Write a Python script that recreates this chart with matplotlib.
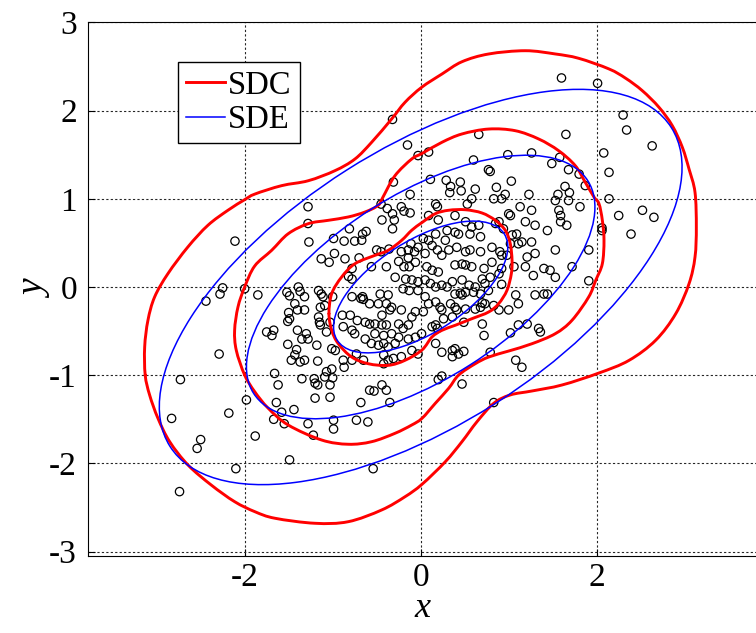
import numpy as np
import matplotlib
matplotlib.use("Agg")
import matplotlib.pyplot as plt
from matplotlib.patches import Ellipse, PathPatch
from matplotlib.path import Path
from matplotlib.lines import Line2D

plt.rcParams['axes.unicode_minus'] = False
plt.rcParams['font.family'] = ['Liberation Serif', 'DejaVu Serif']

# ---------------- data ----------------
pts_x = [-0.32, -0.15, -0.03, -0.31, -0.12,
         1.60, 1.65, 0.66, 0.09, 0.60, 0.99, 1.26, 1.58, 1.49, 1.68, 1.80, 1.87, 0.77, 0.79, 0.11,
         0.29, 0.34, 0.45, 0.46, 0.33, 0.62, 0.86, 1.03, 0.96, 1.23, 1.56, 1.64, 1.69,
         2.01, 2.30, 2.34, 2.63, 2.08, 2.14, 2.14,
         2.25, 2.52, 2.65, 2.06, 2.06, 2.39, 1.91, 1.91,
         -2.11, -2.25, -2.28, -2.44, -2.00, -2.29, -1.85,
         -2.73, -1.98, -2.18, -2.83, -2.50, -2.54, -1.88, -2.10, -2.74,
         -1.35, -1.21, -1.09, -1.00, -1.20, -1.17, -1.03, -1.62, -1.20, -1.03, -1.64, -1.44, -1.58,
         -1.67, -1.55, -1.28, -1.22, -0.99, -0.99, -0.73, -0.60, -0.68, -0.58, -0.53, -0.44, -0.39,
         -0.35, -1.49, -0.54,
         0.20, 0.24, 0.47, 0.83,
         # left-centre block
         -0.45, -0.38, -0.22, -0.19, -0.12, -0.32, -1.28,
         -1.28, -0.44, -0.30, -0.32, -0.81, -0.62,
         -1.27, -0.99, -0.87, -0.75, -0.66, -0.67, -0.11, -0.03,
         -0.98, -1.13, -0.86, -0.70, -0.50, -0.45, -0.36, -0.22, -0.14, -0.07, -0.14, -0.06, -0.25, -1.04,
         -0.56, -0.78, -0.39, -0.19, -0.13, -0.82, -0.78, -0.29, -0.17, -0.10, -0.03,
         -1.52, -1.39, -1.49, -1.37, -1.32, -1.16, -1.13, -1.00, -0.78, -0.66, -0.65, -0.68,
         -0.20, -0.13, -0.03, -0.46, -0.37,
         -1.43, -1.40, -1.32, -1.50, -1.11, -1.14, -1.09, -0.58, -0.48, -0.39, -0.33, -0.35, -0.22,
         -0.89, -0.80,
         -1.49, -1.51, -1.16, -1.15, -1.14, -1.03, -0.72, -0.63, -0.58, -0.52, -0.44, -0.39, -0.25,
         -0.20, -0.10, -0.06, -0.14, -0.44,
         -1.75, -1.67, -1.69, -1.40, -1.30, -1.35, -1.28, -1.07, -0.88, -0.78, -0.75, -0.52, -0.42,
         -0.33, -0.25, -0.14, -0.06, 0.01, -1.51, -1.18, -0.63, -0.56, -0.48, -0.42, -0.37, -0.29,
         -1.41, -1.43, -1.47, -1.37, -1.32, -1.17, -1.01, -0.97, -0.88, -0.87, -0.78, -0.73, -0.65,
         -0.42, -0.42, -0.37, -0.31, -0.22, -0.10, -0.03, -1.66, -1.07, -1.01,
         # right-centre block
         0.17, 0.19, 0.53, 0.58, 0.83, 0.92, 1.13, 1.00, 1.02, 1.26, 1.53, 1.68, 1.81, 1.57, 1.59,
         0.09, 0.20, 0.39, 0.51,
         0.58, 0.66, 0.56, 0.68, 0.85, 0.94, 0.89, 1.04, 1.09, 1.19, 1.30, 1.44, 1.59, 1.66,
         0.30, 0.39, 0.43, 0.28, 0.17, 0.03, 0.09,
         0.13, 0.19, 0.05, 0.24, 0.32, 0.41, 0.51, 0.56, 0.68, 0.81, 0.90, 0.92, 0.98, 1.02, 1.11,
         1.15, 1.26, 1.30, 1.21, 1.53,
         0.07, 0.13, 0.20, 0.39, 0.47, 0.51, 0.58, 0.72, 0.81, 0.79, 0.92, 0.89, 1.06, 1.19, 1.28,
         1.40, 1.47, 1.72, 1.53,
         0.05, 0.11, 0.17, 0.24, 0.30, 0.36, 0.47, 0.55, 0.62, 0.70, 0.73, 0.92, 0.39, 0.45, 0.47,
         0.51, 0.60, 0.68, 0.77, 1.08, 1.11, 1.30, 1.40, 1.44,
         0.05, 0.09, 0.17, 0.22, 0.24, 0.34, 0.39, 0.41, 0.51, 0.62, 0.70, 0.73, 0.68, 0.83, 0.89,
         1.00, 0.03,
         0.13, 0.17, 0.19, 0.26, 0.36, 0.49, 0.70, 0.72, 1.02, 1.11, 1.21, 1.34, 1.36,
         0.17, 0.24, 0.36, 0.39, 0.43, 0.49, 0.36, 0.79, 1.08, 1.15]
pts_y = [1.90, 1.61, 1.49, 1.19, 1.05,
         2.37, 1.73, 1.73, 1.53, 1.44, 1.50, 1.52, 1.47, 1.40, 1.33, 1.28, 1.15, 1.33, 1.31, 1.22,
         1.21, 1.14, 1.19, 1.09, 1.07, 1.11, 1.13, 1.20, 1.05, 1.05, 1.05, 1.14, 1.07,
         2.31, 1.95, 1.78, 1.60, 1.52, 1.30, 1.00,
         0.81, 0.87, 0.79, 0.67, 0.64, 0.60, 0.42, 0.07,
         0.52, -0.01, -0.08, -0.16, -0.02, -0.76, -0.09,
         -1.05, -1.28, -1.43, -1.49, -1.73, -1.83, -1.69, -2.06, -2.32,
         -1.04, -1.04, -1.02, -1.03, -1.09, -1.11, -1.11, -1.11, -1.26, -1.25, -1.31, -1.39, -1.42,
         -1.50, -1.55, -1.55, -1.68, -1.51, -1.61, -1.51, -1.53, -1.31, -1.17, -1.18, -1.11, -1.17,
         -1.31, -1.96, -2.06,
         -1.05, -1.01, -1.10, -1.31,
         # left-centre block
         0.94, 0.89, 0.91, 0.86, 0.84, 0.83, 0.91,
         0.72, 0.76, 0.76, 0.66, 0.66, 0.63,
         0.51, 0.55, 0.52, 0.52, 0.60, 0.53, 0.49, 0.45,
         0.38, 0.32, 0.32, 0.33, 0.42, 0.40, 0.43, 0.40, 0.42, 0.40, 0.33, 0.28, 0.29, 0.28,
         0.23, 0.21, 0.23, 0.23, 0.23, 0.12, 0.09, 0.11, 0.09, 0.08, 0.06,
         -0.06, 0.00, -0.10, -0.05, -0.11, -0.04, -0.08, -0.11, -0.11, -0.11, -0.14, -0.13,
         -0.02, -0.04, -0.04, -0.08, -0.09,
         -0.19, -0.26, -0.26, -0.29, -0.11, -0.23, -0.21, -0.19, -0.19, -0.19, -0.23, -0.26, -0.26,
         -0.32, -0.32,
         -0.36, -0.39, -0.34, -0.40, -0.43, -0.40, -0.38, -0.40, -0.42, -0.42, -0.43, -0.43, -0.42,
         -0.47, -0.34, -0.28, -0.43, -0.32,
         -0.51, -0.49, -0.55, -0.49, -0.53, -0.59, -0.59, -0.51, -0.45, -0.49, -0.53, -0.53, -0.55,
         -0.53, -0.57, -0.59, -0.57, -0.53, -0.65, -0.66, -0.59, -0.64, -0.66, -0.64, -0.68, -0.64,
         -0.71, -0.77, -0.83, -0.85, -0.83, -0.84, -0.70, -0.72, -0.83, -0.91, -0.83, -0.76, -0.83,
         -0.77, -0.87, -0.83, -0.81, -0.79, -0.72, -0.76, -0.98, -0.96, -0.93,
         # right-centre block
         0.94, 0.91, 0.94, 1.00, 1.00, 1.00, 0.91, 0.83, 0.81, 0.87, 0.98, 0.98, 0.91, 0.87, 0.81,
         0.81, 0.76, 0.81, 0.74,
         0.68, 0.70, 0.60, 0.57, 0.72, 0.66, 0.74, 0.59, 0.60, 0.74, 0.70, 0.64, 0.74, 0.70,
         0.64, 0.62, 0.60, 0.53, 0.60, 0.55, 0.53,
         0.47, 0.42, 0.38, 0.36, 0.42, 0.45, 0.40, 0.42, 0.40, 0.45, 0.40, 0.36, 0.36, 0.49, 0.49,
         0.51, 0.51, 0.38, 0.34, 0.42,
         0.23, 0.19, 0.17, 0.25, 0.26, 0.25, 0.23, 0.21, 0.28, 0.11, 0.21, 0.15, 0.23, 0.23, 0.13,
         0.21, 0.19, 0.23, 0.11,
         0.08, 0.04, 0.00, 0.02, 0.00, 0.06, 0.08, 0.02, 0.00, 0.09, 0.04, 0.03, -0.08, -0.07, -0.09,
         -0.06, -0.06, -0.08, -0.04, -0.09, -0.19, -0.09, -0.08, -0.08,
         -0.11, -0.19, -0.17, -0.23, -0.26, -0.19, -0.23, -0.26, -0.25, -0.25, -0.18, -0.19, -0.23,
         -0.21, -0.26, -0.26, -0.28,
         -0.45, -0.43, -0.47, -0.36, -0.34, -0.40, -0.42, -0.55, -0.52, -0.43, -0.42, -0.47, -0.51,
         -0.64, -0.74, -0.72, -0.70, -0.76, -0.73, -0.79, -0.74, -0.83, -0.91]

sdc_outer_x = [-3.130, -3.136, -3.099, -3.023, -2.872, -2.645, -2.417, -2.190, -2.000, -1.883, -1.580,
               -1.277, -0.974, -0.747, -0.557, -0.330, -0.178, 0.011, 0.242, 0.469, 0.773, 1.189,
               1.530, 1.795, 2.140, 2.330, 2.518, 2.708, 2.859, 2.973, 3.049, 3.117, 3.132, 3.117,
               3.049, 2.898, 2.670, 2.367, 2.026, 1.606, 1.265, 1.018, 0.830, 0.640, 0.469, 0.280,
               0.015, -0.178, -0.443, -0.823, -1.201, -1.656, -1.883, -2.114, -2.380, -2.644,
               -2.852, -2.985, -3.080]
sdc_outer_y = [-0.998, -0.680, -0.378, -0.113, 0.151, 0.454, 0.700, 0.870, 0.990, 1.054, 1.149,
               1.205, 1.319, 1.451, 1.641, 1.905, 2.094, 2.264, 2.415, 2.554, 2.642, 2.679,
               2.642, 2.593, 2.472, 2.366, 2.226, 2.037, 1.829, 1.584, 1.338, 1.074, 0.680, 0.340,
               0.037, -0.303, -0.604, -0.832, -0.975, -1.111, -1.179, -1.224, -1.319, -1.527,
               -1.754, -1.981, -2.237, -2.378, -2.528, -2.661, -2.679, -2.622, -2.548, -2.434,
               -2.245, -2.018, -1.754, -1.489, -1.224]

sdc_mid_x = [-2.000, -2.095, -2.114, -2.076, -2.000, -1.886, -1.693, -1.505, -1.277, -1.050, -0.823,
             -0.633, -0.482, -0.428, -0.292, -0.102, 0.015, 0.242, 0.469, 0.773, 1.075, 1.341,
             1.568, 1.757, 1.870, 1.969, 2.026, 2.064, 2.083, 2.064, 1.989, 1.909, 1.719, 1.530,
             1.265, 1.000, 0.773, 0.620, 0.432, 0.318, 0.166, 0.015, -0.102, -0.292, -0.557,
             -0.823, -1.125, -1.505, -1.732, -1.886]
sdc_mid_y = [-0.998, -0.718, -0.491, -0.227, 0.000, 0.238, 0.416, 0.604, 0.718, 0.756, 0.794,
             0.850, 0.926, 1.020, 1.262, 1.451, 1.514, 1.641, 1.735, 1.791, 1.772, 1.678,
             1.545, 1.375, 1.187, 1.020, 0.944, 0.756, 0.529, 0.264, 0.076, -0.113, -0.378, -0.529,
             -0.643, -0.726, -0.794, -0.870, -0.998, -1.149, -1.319, -1.489, -1.565, -1.659, -1.754,
             -1.783, -1.735, -1.565, -1.375, -1.187]

sdc_in_x = [-1.042, -1.011, -0.898, -0.747, -0.519, -0.368, -0.216, -0.102, 0.015, 0.166, 0.318,
            0.507, 0.697, 0.848, 0.961, 1.018, 1.038, 1.030, 0.981, 0.886, 0.773, 0.583, 0.393,
            0.242, 0.128, 0.015, -0.178, -0.368, -0.595, -0.784, -0.936, -1.011]
sdc_in_y = [-0.303, -0.076, 0.113, 0.264, 0.359, 0.416, 0.529, 0.643, 0.731, 0.831, 0.870,
            0.876, 0.839, 0.756, 0.643, 0.491, 0.303, 0.151, -0.037, -0.189, -0.283, -0.359, -0.434,
            -0.491, -0.567, -0.714, -0.831, -0.888, -0.870, -0.794, -0.643, -0.491]

# SDE: covariance (Sxx, Sxy, Syy), centre and Mahalanobis levels
sde_center = (0.0, 0.0)
sde_cov = [[0.98, 0.448], [0.448, 0.558]]
sde_levels = [1, 2, 3]

x_ticks = [-2, 0, 2]
y_ticks = [-3, -2, -1, 0, 1, 2, 3]
legend_labels = ['SDC', 'SDE']

# ---------------- figure ----------------
W, H = 756, 633
fig = plt.figure(figsize=(W / 100, H / 100), dpi=100)
ax = fig.add_axes([88 / W, 1 - 556 / H, 1 - 88 / W, (556 - 22.4) / H])
ax.set_xlim(-3.78, 3.81)
ax.set_ylim(-3.05, 3.0)

ax.set_xticks(x_ticks)
ax.set_yticks(y_ticks)
ax.grid(True, color='0.15', linestyle=(0, (2, 2)), linewidth=0.8)
ax.set_axisbelow(True)
ax.tick_params(direction='in', length=5, labelsize=24, pad=8)
ax.tick_params(axis='x', pad=5)
ax.spines['right'].set_visible(False)

ax.scatter(pts_x, pts_y, s=36, facecolors='none', edgecolors='black', linewidths=0.9, zorder=3)


def smooth_closed_path(xs, ys):
    p = np.column_stack([xs, ys])
    n = len(p)
    verts = [p[0]]
    codes = [Path.MOVETO]
    for i in range(n):
        p0, p1, p2, p3 = p[i - 1], p[i], p[(i + 1) % n], p[(i + 2) % n]
        verts += [p1 + (p2 - p0) / 6.0, p2 - (p3 - p1) / 6.0, p2]
        codes += [Path.CURVE4] * 3
    return Path(verts, codes)


for cx, cy in [(sdc_outer_x, sdc_outer_y), (sdc_mid_x, sdc_mid_y), (sdc_in_x, sdc_in_y)]:
    ax.add_patch(PathPatch(smooth_closed_path(cx, cy), fill=False, edgecolor='#ff0000',
                           lw=2.1, zorder=4, capstyle='round', joinstyle='round'))

vals, vecs = np.linalg.eigh(np.array(sde_cov))
ang = np.degrees(np.arctan2(vecs[1, 1], vecs[0, 1]))
for c in sde_levels:
    ax.add_patch(Ellipse(sde_center, 2 * c * np.sqrt(vals[1]), 2 * c * np.sqrt(vals[0]),
                         angle=ang, fill=False, edgecolor='#0000ff', lw=1.1, zorder=4))

handles = [Line2D([], [], color='#ff0000', lw=2.1), Line2D([], [], color='#0000ff', lw=1.1)]
leg = ax.legend(handles, legend_labels, loc='upper left',
                bbox_to_anchor=((178 - 88) / 668, (556 - 62) / 533.6),
                borderaxespad=0, fontsize=23.5, frameon=True, fancybox=False, framealpha=1,
                edgecolor='black', handlelength=1.2, handletextpad=0.08, borderpad=0.25,
                labelspacing=0.12)
leg.get_frame().set_linewidth(1.0)
leg.set_zorder(6)

ax.set_xlabel('x', fontsize=26, fontstyle='italic', labelpad=-1)
ax.set_ylabel('y', fontsize=27, fontstyle='italic', labelpad=-3)

fig.savefig('out.png', dpi=100)
